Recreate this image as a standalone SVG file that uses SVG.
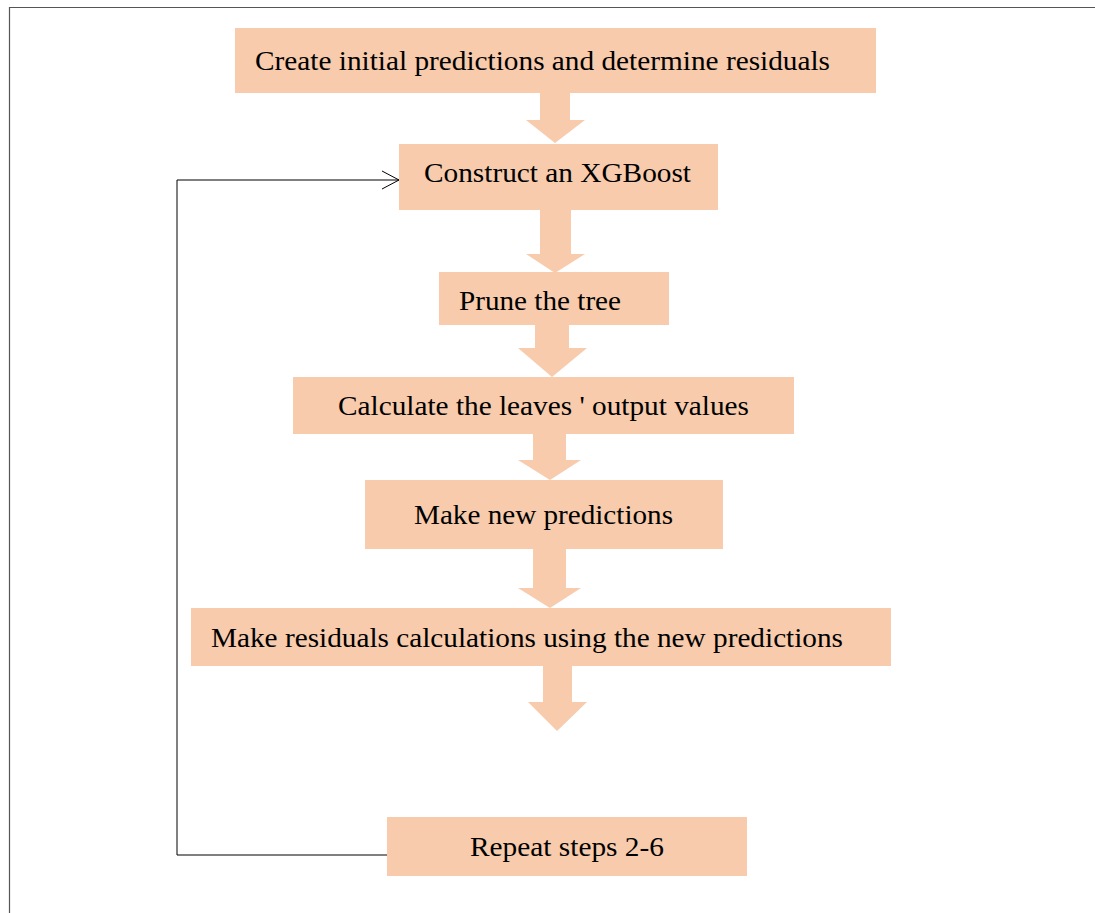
<svg xmlns="http://www.w3.org/2000/svg" width="1095" height="913" viewBox="0 0 1095 913">
<style>
.box{fill:#F7CBAC}
.t{font-family:"Liberation Serif","Times New Roman",serif;font-size:28px;fill:#000}
.ba{fill:#F7CBAC}
.ln{fill:none;stroke:#000;stroke-width:1}
</style>
<rect width="1095" height="913" fill="#fff"/>
<path d="M9.5,913 V7.5 H1095" fill="none" stroke="#555" stroke-width="1.2"/>
<g id="connectors">
<polygon class="ba" points="540,93 570,93 570,120 585,120 555,143 526,120 540,120"/>
<polygon class="ba" points="540,210 571,210 571,254 585,254 555,273 526,254 540,254"/>
<polygon class="ba" points="535,325 569,325 569,348 587,348 552,377 518,348 535,348"/>
<polygon class="ba" points="533,434 566,434 566,460 581,460 550,480 518,460 533,460"/>
<polygon class="ba" points="533,549 566,549 566,588 581,588 550,608 518,588 533,588"/>
<polygon class="ba" points="543,666 572,666 572,702 587,702 557,731 528,702 543,702"/>
<polyline class="ln" points="387,855 177,855 177,180 399,180"/>
<polyline class="ln" points="382,171 399,180 382,189"/>
</g>
<g id="n1"><rect class="box" x="235" y="28" width="641" height="65"/><text class="t" x="255" y="70" textLength="575" lengthAdjust="spacingAndGlyphs">Create initial predictions and determine residuals</text></g>
<g id="n2"><rect class="box" x="399" y="144" width="319" height="66"/><text class="t" x="424" y="182" textLength="267" lengthAdjust="spacingAndGlyphs">Construct an XGBoost</text></g>
<g id="n3"><rect class="box" x="439" y="272" width="230" height="53"/><text class="t" x="459" y="310" textLength="162" lengthAdjust="spacingAndGlyphs">Prune the tree</text></g>
<g id="n4"><rect class="box" x="293" y="377" width="501" height="57"/><text class="t" x="338" y="415" textLength="411" lengthAdjust="spacingAndGlyphs">Calculate the leaves ' output values</text></g>
<g id="n5"><rect class="box" x="365" y="480" width="358" height="69"/><text class="t" x="414" y="524" textLength="259" lengthAdjust="spacingAndGlyphs">Make new predictions</text></g>
<g id="n6"><rect class="box" x="191" y="608" width="700" height="58"/><text class="t" x="211" y="647" textLength="632" lengthAdjust="spacingAndGlyphs">Make residuals calculations using the new predictions</text></g>
<g id="n7"><rect class="box" x="387" y="817" width="360" height="59"/><text class="t" x="470" y="856" textLength="194" lengthAdjust="spacingAndGlyphs">Repeat steps 2-6</text></g>
</svg>
